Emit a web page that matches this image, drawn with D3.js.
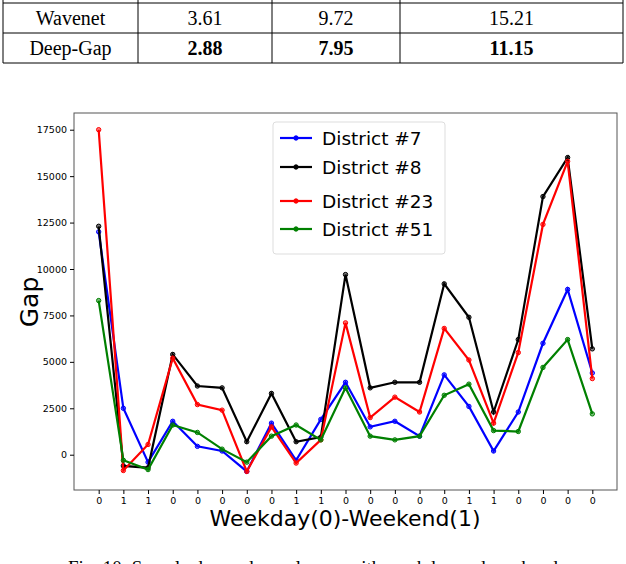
<!DOCTYPE html>
<html><head><meta charset="utf-8">
<script src="https://cdn.jsdelivr.net/npm/d3@7"></script>
<style>body{margin:0;background:#fff}</style></head>
<body><svg id="c" width="626" height="564"></svg>
<script>
const xLabels=["0","1","1","0","0","0","0","0","1","1","0","0","0","0","0","1","1","0","0","0","0"];
const d7=[12000,2500,-400,1800,450,200,-900,1700,-300,1900,3900,1500,1800,1000,4300,2600,200,2300,6000,8900,4400];
const d8=[12300,-600,-700,5400,3700,3600,700,3300,700,950,9700,3600,3900,3900,9200,7400,2300,6200,13900,16000,5700];
const d23=[17500,-850,550,5200,2700,2400,-900,1500,-450,800,7100,2000,3100,2300,6800,5100,1700,5500,12400,15800,4100];
const d51=[8300,-300,-800,1600,1200,300,-400,1000,1600,800,3600,1000,800,1000,3200,3800,1300,1250,4700,6200,2200];
const yTicks=[0,2500,5000,7500,10000,12500,15000,17500];
const series=[["District #7",d7,"#0000ff"],["District #8",d8,"#000000"],["District #23",d23,"#ff0000"],["District #51",d51,"#008000"]];
const tableRows=[["Bi-LSTM","3.58","9.69","14.57",false],["Wavenet","3.61","9.72","15.21",false],["Deep-Gap","2.88","7.95","11.15",true]];

const svg=d3.select("#c");
const colX=[3,138,272,400,623], rowY=[-27,3,33,63];
const tg=svg.append("g").attr("font-family","Liberation Serif").attr("font-size",20);
rowY.slice(1).forEach(y=>tg.append("line").attr("x1",3).attr("x2",623).attr("y1",y).attr("y2",y).attr("stroke","#000"));
colX.forEach(x=>tg.append("line").attr("x1",x).attr("x2",x).attr("y1",0).attr("y2",63).attr("stroke","#000"));
tableRows.forEach((r,i)=>{for(let j=0;j<4;j++){tg.append("text").attr("x",(colX[j]+colX[j+1])/2).attr("y",rowY[i]+22)
 .attr("text-anchor","middle").attr("font-weight",r[4]&&j>0?"bold":"normal").text(r[j]);}});

const L=74,R=617,T=113,B=490;
const x=d3.scaleLinear().domain([-1,21]).range([L,R]);
const y=d3.scaleLinear().domain([-1900,18400]).range([B,T]);
const g=svg.append("g").attr("font-family","DejaVu Sans");
g.append("rect").attr("x",L).attr("y",T).attr("width",R-L).attr("height",B-T).attr("fill","none").attr("stroke","#555");
const ya=g.append("g").attr("transform",`translate(${L},0)`).call(d3.axisLeft(y).tickValues(yTicks).tickFormat(d3.format("d")).tickSize(4).tickPadding(3));
ya.select(".domain").remove(); ya.selectAll("text").attr("font-size",9.5).attr("font-family","DejaVu Sans");
const xa=g.append("g").attr("transform",`translate(0,${B})`).call(d3.axisBottom(x).tickValues(d3.range(21)).tickFormat(i=>xLabels[i]).tickSize(4).tickPadding(3));
xa.select(".domain").remove(); xa.selectAll("text").attr("font-size",9.5).attr("font-family","DejaVu Sans");
const line=d3.line().x((d,i)=>x(i)).y(d=>y(d));
series.forEach(([n,v,c])=>{
 g.append("path").attr("d",line(v)).attr("fill","none").attr("stroke",c).attr("stroke-width",2.2);
 g.selectAll(null).data(v).join("circle").attr("cx",(d,i)=>x(i)).attr("cy",d=>y(d)).attr("r",2.2).attr("fill",c).attr("fill-opacity",0.5).attr("stroke",c);
});
const lg=g.append("g");
lg.append("rect").attr("x",273).attr("y",122).attr("width",172).attr("height",132).attr("rx",3).attr("fill","#fff").attr("fill-opacity",0.85).attr("stroke","#ddd");
series.forEach(([n,v,c],i)=>{const yy=[138,167,201,229][i];
 lg.append("line").attr("x1",280).attr("x2",312).attr("y1",yy).attr("y2",yy).attr("stroke",c).attr("stroke-width",2.2);
 lg.append("circle").attr("cx",296).attr("cy",yy).attr("r",2.2).attr("fill",c).attr("stroke",c);
 lg.append("text").attr("x",322).attr("y",yy+7).attr("font-size",18.5).text(n);});
g.append("text").attr("transform","translate(38,302) rotate(-90)").attr("text-anchor","middle").attr("font-size",25).text("Gap");
g.append("text").attr("x",345).attr("y",526).attr("text-anchor","middle").attr("font-size",22).text("Weekday(0)-Weekend(1)");
svg.append("text").attr("x",313).attr("y",574).attr("text-anchor","middle").attr("font-family","Liberation Serif").attr("font-size",19).text("Fig. 10:  Sample demand-supply gap with weekday and weekend");
</script></body></html>
